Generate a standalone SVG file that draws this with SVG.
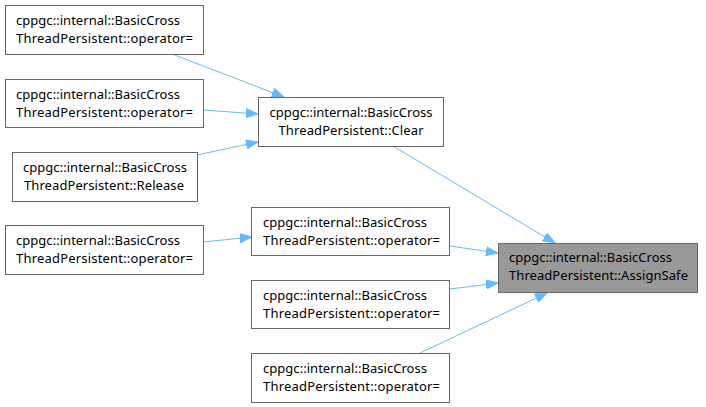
<svg xmlns="http://www.w3.org/2000/svg" width="706" height="407" viewBox="0 0 706 407">
<style>
.box{fill:#ffffff;stroke:#666666;stroke-width:1}
.hl{fill:#999999;stroke:#666666;stroke-width:1}
text{font-family:"Noto Sans","DejaVu Sans",sans-serif;font-size:13px;fill:#000000}
.c{text-anchor:middle}
.edge{fill:none;stroke:#63b8ff;stroke-width:1}
</style>
<defs>
<marker id="ah" markerUnits="userSpaceOnUse" markerWidth="13" markerHeight="10" refX="12" refY="5" orient="auto" viewBox="0 0 13 10">
<path d="M0,0.5 L12,5 L0,9.5 Z" fill="#63b8ff" stroke="#63b8ff" stroke-width="1"/>
</marker>
</defs>
<rect width="706" height="407" fill="#ffffff"/>
<g id="connectors">
<path class="edge" d="M172,54 L284,97" marker-end="url(#ah)"/>
<path class="edge" d="M203,110 L258,114" marker-end="url(#ah)"/>
<path class="edge" d="M197,155 L258,142" marker-end="url(#ah)"/>
<path class="edge" d="M393,146 L555,243" marker-end="url(#ah)"/>
<path class="edge" d="M203,242 L252,237" marker-end="url(#ah)"/>
<path class="edge" d="M450,246 L498,253" marker-end="url(#ah)"/>
<path class="edge" d="M450,289 L498,283" marker-end="url(#ah)"/>
<path class="edge" d="M420,353 L547,293" marker-end="url(#ah)"/>
</g>
<g id="n1">
<rect class="box" x="5.5" y="5.5" width="198" height="49"/>
<text x="16" y="25" textLength="164" lengthAdjust="spacing">cppgc::internal::BasicCross</text>
<text x="16" y="43" textLength="177" lengthAdjust="spacing">ThreadPersistent::operator=</text>
</g>
<g id="n2">
<rect class="box" x="5.5" y="79.5" width="198" height="48"/>
<text x="16" y="99" textLength="164" lengthAdjust="spacing">cppgc::internal::BasicCross</text>
<text x="16" y="117" textLength="177" lengthAdjust="spacing">ThreadPersistent::operator=</text>
</g>
<g id="n3">
<rect class="box" x="12.5" y="152.5" width="185" height="49"/>
<text class="c" x="105" y="172" textLength="164" lengthAdjust="spacing">cppgc::internal::BasicCross</text>
<text class="c" x="104" y="190" textLength="160" lengthAdjust="spacing">ThreadPersistent::Release</text>
</g>
<g id="n4">
<rect class="box" x="5.5" y="225.5" width="198" height="49"/>
<text x="16" y="245" textLength="164" lengthAdjust="spacing">cppgc::internal::BasicCross</text>
<text x="16" y="263" textLength="177" lengthAdjust="spacing">ThreadPersistent::operator=</text>
</g>
<g id="clear">
<rect class="box" x="258.5" y="97.5" width="185" height="49"/>
<text class="c" x="351" y="117" textLength="163" lengthAdjust="spacing">cppgc::internal::BasicCross</text>
<text class="c" x="351" y="135" textLength="145" lengthAdjust="spacing">ThreadPersistent::Clear</text>
</g>
<g id="m1">
<rect class="box" x="251.5" y="207.5" width="198" height="48"/>
<text x="263" y="227" textLength="164" lengthAdjust="spacing">cppgc::internal::BasicCross</text>
<text x="263" y="245" textLength="177" lengthAdjust="spacing">ThreadPersistent::operator=</text>
</g>
<g id="m2">
<rect class="box" x="251.5" y="280.5" width="198" height="48"/>
<text x="263" y="300" textLength="164" lengthAdjust="spacing">cppgc::internal::BasicCross</text>
<text x="263" y="318" textLength="177" lengthAdjust="spacing">ThreadPersistent::operator=</text>
</g>
<g id="m3">
<rect class="box" x="251.5" y="353.5" width="198" height="49"/>
<text x="263" y="373" textLength="164" lengthAdjust="spacing">cppgc::internal::BasicCross</text>
<text x="263" y="391" textLength="177" lengthAdjust="spacing">ThreadPersistent::operator=</text>
</g>
<g id="assignsafe">
<rect class="hl" x="498.5" y="243.5" width="199" height="49"/>
<text x="509" y="262" textLength="163" lengthAdjust="spacing">cppgc::internal::BasicCross</text>
<text x="509" y="280" textLength="179" lengthAdjust="spacing">ThreadPersistent::AssignSafe</text>
</g>
</svg>
